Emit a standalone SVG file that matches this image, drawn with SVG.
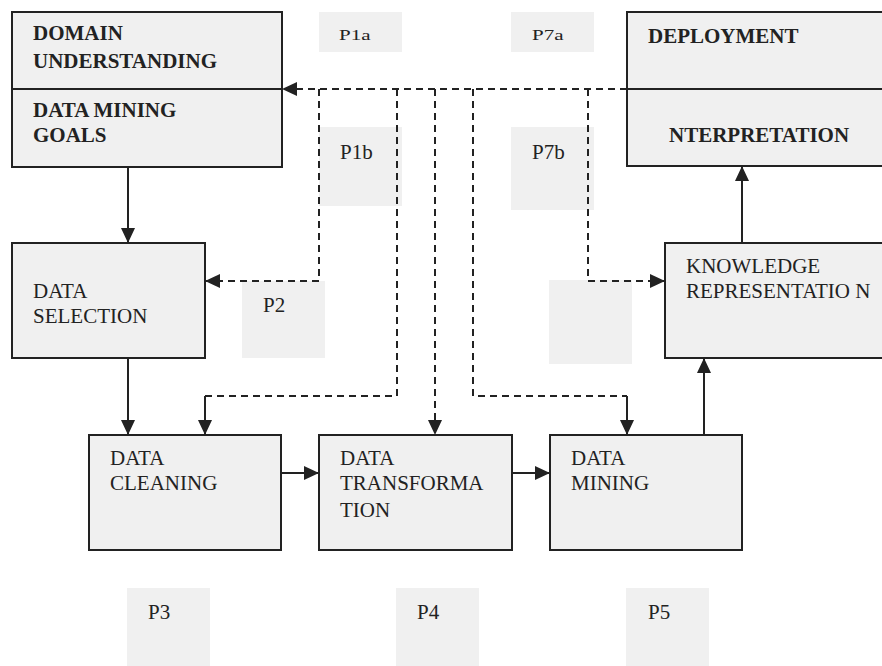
<svg xmlns="http://www.w3.org/2000/svg" width="882" height="666" viewBox="0 0 882 666">
<defs>
<marker id="ah" markerUnits="userSpaceOnUse" markerWidth="15" markerHeight="14" refX="15" refY="7" orient="auto">
<path d="M0,0 L15,7 L0,14 z" fill="#222"/>
</marker>
<style>
.box{fill:#f0f0f0;stroke:#222;stroke-width:2}
.pad{fill:#f0f0f0;stroke:none}
.t{font-family:"Liberation Serif","Times New Roman",serif;font-size:21px;fill:#222}
.b{font-weight:bold}
.sol{fill:none;stroke:#222;stroke-width:2}
.dash{fill:none;stroke:#222;stroke-width:2;stroke-dasharray:7 5}
</style>
</defs>
<rect width="882" height="666" fill="#fff"/>

<g id="labels">
<g id="p1a"><rect class="pad" x="319" y="12" width="83" height="40"/><text class="t" transform="translate(339,40) scale(1,0.65)">P1a</text></g>
<g id="p1b"><rect class="pad" x="319" y="127" width="83" height="79"/><text class="t" x="340" y="159">P1b</text></g>
<g id="p7a"><rect class="pad" x="511" y="12" width="83" height="40"/><text class="t" transform="translate(532,40) scale(1,0.65)">P7a</text></g>
<g id="p7b"><rect class="pad" x="511" y="127" width="83" height="83"/><text class="t" x="532" y="159">P7b</text></g>
<g id="p2"><rect class="pad" x="242" y="281" width="83" height="77"/><text class="t" x="263" y="312">P2</text></g>
<g id="p6"><rect class="pad" x="549" y="280" width="83" height="84"/></g>
<g id="p3"><rect class="pad" x="127" y="588" width="83" height="78"/><text class="t" x="148" y="619">P3</text></g>
<g id="p4"><rect class="pad" x="396" y="588" width="83" height="78"/><text class="t" x="417" y="619">P4</text></g>
<g id="p5"><rect class="pad" x="626" y="588" width="83" height="78"/><text class="t" x="648" y="619">P5</text></g>
</g>

<g id="domain">
<rect class="box" x="12" y="12" width="270" height="155"/>
<line class="sol" x1="12" y1="89" x2="282" y2="89"/>
<text class="t b" x="33" y="40">DOMAIN</text>
<text class="t b" x="33" y="68">UNDERSTANDING</text>
<text class="t b" x="33" y="117">DATA MINING</text>
<text class="t b" x="33" y="142">GOALS</text>
</g>

<g id="deployment">
<rect class="box" x="627" y="12" width="265" height="154"/>
<line class="sol" x1="627" y1="89" x2="892" y2="89"/>
<text class="t b" x="648" y="43">DEPLOYMENT</text>
<text class="t b" x="669" y="142">NTERPRETATION</text>
</g>

<g id="selection">
<rect class="box" x="12" y="243" width="193" height="115"/>
<text class="t" x="33" y="298">DATA</text>
<text class="t" x="33" y="323">SELECTION</text>
</g>

<g id="knowledge">
<rect class="box" x="665" y="243" width="227" height="115"/>
<text class="t" x="686" y="273">KNOWLEDGE</text>
<text class="t" x="686" y="298">REPRESENTATIO N</text>
</g>

<g id="cleaning">
<rect class="box" x="89" y="435" width="192" height="115"/>
<text class="t" x="110" y="465">DATA</text>
<text class="t" x="110" y="490">CLEANING</text>
</g>

<g id="transformation">
<rect class="box" x="319" y="435" width="193" height="115"/>
<text class="t" x="340" y="465">DATA</text>
<text class="t" x="340" y="490">TRANSFORMA</text>
<text class="t" x="340" y="517">TION</text>
</g>

<g id="mining">
<rect class="box" x="550" y="435" width="192" height="115"/>
<text class="t" x="571" y="465">DATA</text>
<text class="t" x="571" y="490">MINING</text>
</g>

<g id="connectors">
<line class="sol" x1="128" y1="167" x2="128" y2="243" marker-end="url(#ah)"/>
<line class="sol" x1="128" y1="358" x2="128" y2="435" marker-end="url(#ah)"/>
<line class="sol" x1="281" y1="473" x2="319" y2="473" marker-end="url(#ah)"/>
<line class="sol" x1="512" y1="473" x2="550" y2="473" marker-end="url(#ah)"/>
<line class="sol" x1="704" y1="435" x2="704" y2="358" marker-end="url(#ah)"/>
<line class="sol" x1="742" y1="243" x2="742" y2="166" marker-end="url(#ah)"/>
<path class="dash" d="M627,89 H282" marker-end="url(#ah)"/>
<path class="dash" d="M319,89 V281 H205" marker-end="url(#ah)"/>
<path class="dash" d="M397,89 V396 H205"/>
<line class="sol" x1="205" y1="396" x2="205" y2="435" marker-end="url(#ah)"/>
<path class="dash" d="M435,89 V435" marker-end="url(#ah)"/>
<path class="dash" d="M473,89 V396 H627"/>
<line class="sol" x1="627" y1="396" x2="627" y2="435" marker-end="url(#ah)"/>
<path class="dash" d="M588,89 V281 H665" marker-end="url(#ah)"/>
</g>
</svg>
